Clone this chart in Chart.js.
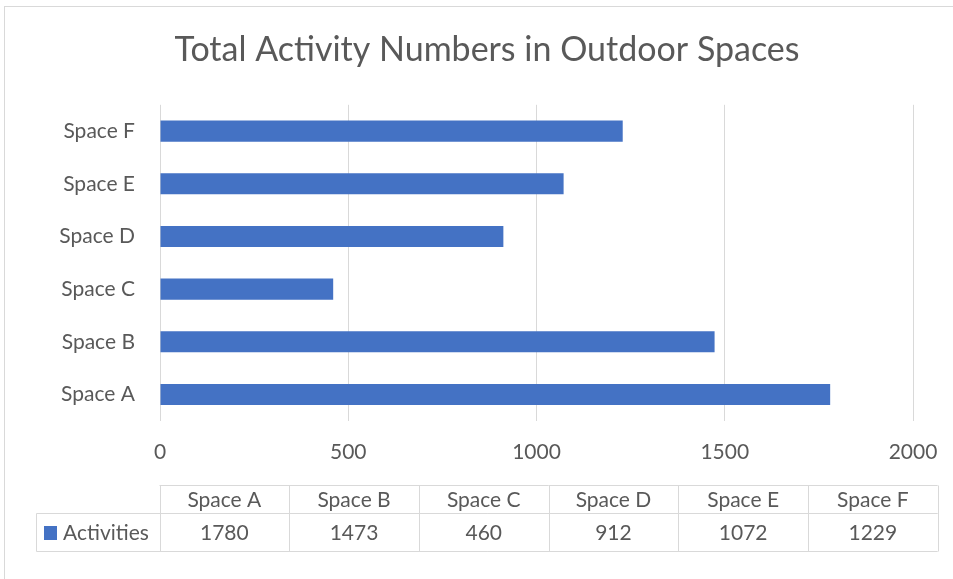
<!DOCTYPE html>
<html>

<head>
    <title>Outdoor activity totals</title>
    <meta name="viewport" content="width=device-width, initial-scale=1.0">
    <style>
        html, body {
            margin: 0;
            padding: 0;
            background: #ffffff;
        }

        .chart-container {
            position: relative;
            width: 953px;
            height: 579px;
        }
    </style>
</head>

<body>
    <div class="chart-container">
        <canvas id="activityChart" width="953" height="579"></canvas>
    </div>

    <script src="https://cdn.jsdelivr.net/npm/chart.js@4.4.1/dist/chart.umd.min.js"></script>

    <script>
        const spaces = ['Space A', 'Space B', 'Space C', 'Space D', 'Space E', 'Space F'];
        const activities = [1780, 1473, 460, 912, 1072, 1229];
        const seriesName = 'Activities';
        const xTicks = [0, 500, 1000, 1500, 2000];

        const textColor = '#595959';
        const lineColor = '#d9d9d9';
        const barColor = '#4472c4';
        const fontFamily = 'Lato, "Open Sans", sans-serif';

        // light frame around the whole chart
        const framePlugin = {
            id: 'frame',
            beforeDraw(chart) {
                const ctx = chart.ctx;
                ctx.save();
                ctx.fillStyle = '#ffffff';
                ctx.fillRect(0, 0, chart.width, chart.height);
                ctx.strokeStyle = lineColor;
                ctx.lineWidth = 1;
                ctx.strokeRect(4.5, 6.5, chart.width + 10, chart.height + 10);
                ctx.restore();
            }
        };

        // data table under the axis: header row of categories, one row of values
        const dataTablePlugin = {
            id: 'dataTable',
            afterDraw(chart) {
                const ctx = chart.ctx;
                const labels = chart.data.labels;
                const values = chart.data.datasets[0].data;
                const left = chart.chartArea.left - 0.5;
                const colW = 129.7;
                const right = left + colW * labels.length;
                const top = 485.5, mid = 513.5, bottom = 551.5;
                const legendLeft = 36.5;

                ctx.save();
                ctx.strokeStyle = lineColor;
                ctx.lineWidth = 1;
                ctx.beginPath();
                ctx.moveTo(left, top); ctx.lineTo(right, top);
                ctx.moveTo(legendLeft, mid); ctx.lineTo(right, mid);
                ctx.moveTo(legendLeft, bottom); ctx.lineTo(right, bottom);
                ctx.moveTo(legendLeft, mid); ctx.lineTo(legendLeft, bottom);
                for (let i = 0; i <= labels.length; i++) {
                    const x = Math.round(left + colW * i) + 0.5;
                    ctx.moveTo(x, top); ctx.lineTo(x, bottom);
                }
                ctx.stroke();

                ctx.font = '21px ' + fontFamily;
                ctx.fillStyle = textColor;
                ctx.textAlign = 'center';
                ctx.textBaseline = 'middle';
                labels.forEach((label, i) => {
                    const cx = left + colW * (i + 0.5);
                    ctx.fillText(label, cx, (top + mid) / 2 + 1);
                    ctx.fillText(String(values[i]), cx, (mid + bottom) / 2 + 1);
                });

                // legend key for the series row
                ctx.fillStyle = barColor;
                ctx.fillRect(44, 526, 13, 14);
                ctx.fillStyle = textColor;
                ctx.textAlign = 'left';
                ctx.fillText(seriesName, 63, (mid + bottom) / 2 + 1);
                ctx.restore();
            }
        };

        const ctx = document.getElementById('activityChart').getContext('2d');
        const activityChart = new Chart(ctx, {
            type: 'bar',
            data: {
                labels: spaces,
                datasets: [{
                    label: seriesName,
                    data: activities,
                    backgroundColor: barColor,
                    borderWidth: 0,
                    categoryPercentage: 1,
                    barPercentage: 0.4
                }]
            },
            options: {
                indexAxis: 'y',
                responsive: false,
                animation: false,
                devicePixelRatio: 1,
                layout: {
                    padding: { left: 21, right: 0, top: 0, bottom: 95 }
                },
                plugins: {
                    legend: { display: false },
                    tooltip: { enabled: false },
                    title: {
                        display: true,
                        text: 'Total Activity Numbers in Outdoor Spaces',
                        color: textColor,
                        font: { family: fontFamily, size: 34, weight: 'normal' },
                        padding: { top: 30, bottom: 34 }
                    }
                },
                scales: {
                    x: {
                        min: 0,
                        max: 2000,
                        afterBuildTicks(scale) {
                            scale.ticks = xTicks.map(v => ({ value: v }));
                        },
                        afterFit(scale) {
                            scale.paddingRight = 40;
                        },
                        grid: { color: lineColor, drawTicks: false },
                        border: { display: false },
                        ticks: {
                            color: textColor,
                            padding: 19,
                            font: { family: fontFamily, size: 21 },
                            callback: v => String(v)
                        }
                    },
                    y: {
                        reverse: true,
                        afterFit(scale) {
                            scale.width = 139;
                        },
                        grid: { display: false },
                        border: { display: false },
                        ticks: {
                            color: textColor,
                            padding: 17,
                            font: { family: fontFamily, size: 21 }
                        }
                    }
                }
            },
            plugins: [framePlugin, dataTablePlugin]
        });
    </script>
</body>

</html>
